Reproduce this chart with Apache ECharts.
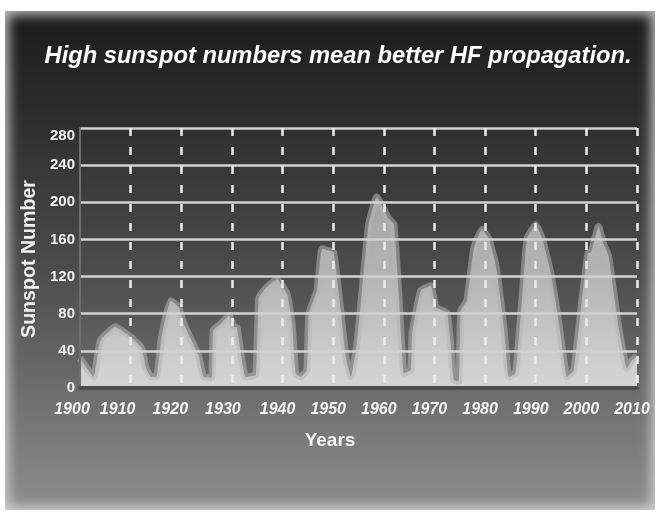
<!DOCTYPE html>
<html>
<head>
<meta charset="utf-8">
<script src="https://cdn.jsdelivr.net/npm/echarts@6/dist/echarts.min.js"></script>
<style>
  html, body { margin: 0; padding: 0; background: #ffffff; }
  #wrap { position: relative; width: 660px; height: 516px; overflow: hidden; }
  #card {
    position: absolute; left: 5px; top: 11px; width: 650px; height: 499px;
    background: linear-gradient(to bottom, #1b1b1b 0%, #2c2c2c 20%, #4a4a4a 50%, #6e6e6e 77%, #8e8e8e 100%);
    box-shadow: inset 0 0 12px 4px rgba(215,215,215,0.85);
  }
  #chart { position: absolute; left: 0; top: 0; width: 660px; height: 516px; }
</style>
</head>
<body>
<div id="wrap">
  <div id="card"></div>
  <div id="chart"></div>
</div>
<script>
// ---- data ----
const titleText = 'High sunspot numbers mean better HF propagation.';
const xAxisTitle = 'Years';
const yAxisTitle = 'Sunspot Number';
const yearTicks = [1900, 1910, 1920, 1930, 1940, 1950, 1960, 1970, 1980, 1990, 2000, 2010];
const valueTicks = [0, 40, 80, 120, 160, 200, 240, 280];
const years = [
  1900.0, 1902.7, 1904.0, 1907.0, 1910.0, 1912.2, 1913.0, 1914.0, 1915.1, 1916.1,
  1917.9, 1919.5, 1920.5, 1923.4, 1924.4, 1926.0, 1926.3, 1927.8, 1929.4, 1930.4,
  1931.0, 1932.7, 1934.7, 1935.3, 1936.6, 1938.9, 1940.9, 1941.9, 1942.6, 1943.6,
  1944.8, 1945.2, 1946.8, 1947.8, 1949.1, 1950.1, 1951.5, 1952.5, 1953.5, 1954.7,
  1957.0, 1958.6, 1960.9, 1962.0, 1963.0, 1964.0, 1965.3, 1965.6, 1967.3, 1969.3,
  1970.2, 1970.9, 1972.5, 1973.2, 1973.8, 1974.8, 1975.2, 1976.4, 1977.8, 1979.4,
  1980.7, 1982.1, 1983.7, 1984.7, 1986.0, 1987.3, 1988.3, 1990.0, 1991.3, 1993.0,
  1994.6, 1996.2, 1997.5, 1999.1, 2000.3, 2001.0, 2002.4, 2003.4, 2004.4, 2005.6,
  2006.4, 2008.0, 2009.0, 2010.0
];
const sunspots = [
  32, 12, 51, 66, 55, 43, 22, 12, 12, 55,
  94, 87, 69, 35, 12, 11, 62, 69, 78, 66,
  65, 12, 14, 97, 107, 117, 101, 69, 16, 12,
  19, 80, 105, 150, 148, 146, 83, 33, 12, 48,
  176, 206, 183, 176, 97, 16, 19, 59, 105, 110,
  87, 85, 81, 48, 9, 7, 83, 94, 151, 171,
  161, 133, 66, 12, 16, 97, 161, 176, 161, 123,
  69, 12, 19, 94, 145, 147, 174, 155, 142, 95,
  65, 21, 30, 34
];

// ---- helpers ----
const measureCtx = document.createElement('canvas').getContext('2d');
function fitSize(text, weightStyle, family, targetWidth) {
  measureCtx.font = weightStyle + ' 100px ' + family;
  return Math.round(100 * targetWidth / measureCtx.measureText(text).width * 10) / 10;
}
const narrowFamily = '"Liberation Sans Narrow", "Liberation Sans", Arial, sans-serif';
const sansFamily = '"Liberation Sans", Arial, sans-serif';
const titleSize = Math.min(26, fitSize(titleText, 'italic bold', narrowFamily, 587));
const yTitleSize = Math.min(20, fitSize(yAxisTitle, 'bold', sansFamily, 158));

// per-label nudges (reference labels sit slightly left of their gridlines)
const xLabelNudge = {1900: 8, 1910: 13, 1920: 11, 1930: 9};
const rich = {};
yearTicks.forEach(y => {
  const n = xLabelNudge[y] !== undefined ? xLabelNudge[y] : 5;
  rich['n' + y] = { padding: [0, 2 * n, 0, 0], fontFamily: sansFamily, fontWeight: 'bold',
                    fontStyle: 'italic', fontSize: 16, color: '#f2f2f2' };
});

const seriesData = years.map((y, i) => [y, sunspots[i]]);

const chart = echarts.init(document.getElementById('chart'), null, { renderer: 'canvas' });
chart.setOption({
  backgroundColor: 'transparent',
  animation: false,
  grid: { left: 80, right: 23, top: 128, bottom: 128, containLabel: false },
  xAxis: {
    type: 'value',
    min: yearTicks[0], max: yearTicks[yearTicks.length - 1],
    interval: yearTicks[1] - yearTicks[0],
    z: 4,
    axisLine: { show: true, onZero: false, lineStyle: { color: '#4c4c4c', width: 4 } },
    axisTick: { show: false },
    axisLabel: {
      margin: 14,
      formatter: v => '{n' + v + '|' + v + '}',
      rich: rich
    },
    splitLine: {
      show: true, showMinLine: false, showMaxLine: true,
      lineStyle: { color: '#ececec', width: 2.5, type: [8, 11] }
    }
  },
  yAxis: {
    type: 'value',
    min: valueTicks[0], max: valueTicks[valueTicks.length - 1],
    interval: valueTicks[1] - valueTicks[0],
    z: 4,
    axisLine: { show: true, lineStyle: { color: '#6e6e6e', width: 2 } },
    axisTick: { show: false },
    axisLabel: {
      margin: 5,
      formatter: v => v === valueTicks[valueTicks.length - 1] ? '{top|' + v + '}' : '{d|' + v + '}',
      rich: {
        d: { fontFamily: sansFamily, fontWeight: 'bold', fontSize: 15, color: '#f2f2f2' },
        top: { fontFamily: sansFamily, fontWeight: 'bold', fontSize: 15, color: '#f2f2f2', padding: [16, 0, 0, 0] }
      }
    },
    splitLine: {
      show: true, showMinLine: false,
      lineStyle: { color: '#d2d2d2', width: 2.5 }
    }
  },
  series: [{
    type: 'line',
    data: seriesData,
    showSymbol: false,
    symbol: 'none',
    smooth: 0.12,
    z: 2,
    lineStyle: { color: 'rgba(180,180,180,0.55)', width: 7, join: 'round' },
    areaStyle: {
      opacity: 0.96,
      color: {
        type: 'linear', global: true, x: 0, y: 388, x2: 0, y2: 128,
        colorStops: [
          { offset: 0, color: '#dadada' },
          { offset: 0.45, color: '#b8b8b8' },
          { offset: 1, color: '#9c9c9c' }
        ]
      }
    }
  }],
  graphic: {
    elements: [
      {
        type: 'text', x: 338, y: 56,
        style: {
          text: titleText, fill: '#ffffff', align: 'center', verticalAlign: 'middle',
          font: 'italic bold ' + titleSize + 'px ' + narrowFamily,
          shadowBlur: 2, shadowColor: 'rgba(0,0,0,0.6)'
        }
      },
      {
        type: 'text', x: 30, y: 259, rotation: Math.PI / 2,
        style: {
          text: yAxisTitle, fill: '#f0f0f0', align: 'center', verticalAlign: 'middle',
          font: 'bold ' + yTitleSize + 'px ' + sansFamily
        }
      },
      {
        type: 'text', x: 330, y: 441,
        style: {
          text: xAxisTitle, fill: '#f4f4f4', align: 'center', verticalAlign: 'middle',
          font: 'bold 19px ' + sansFamily
        }
      }
    ]
  }
});
</script>
</body>
</html>
